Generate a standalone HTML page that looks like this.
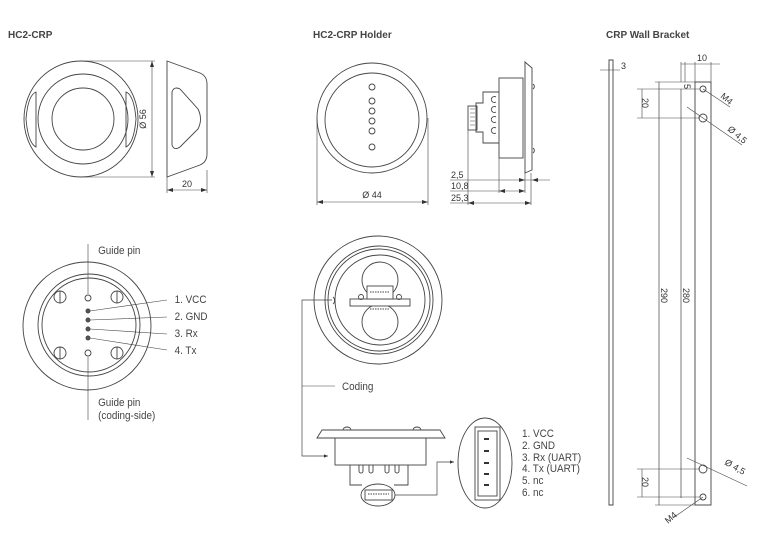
<!DOCTYPE html>
<html><head><meta charset="utf-8"><style>
html,body{margin:0;padding:0;background:#fff;}
svg{display:block;}
text{font-family:"Liberation Sans",sans-serif;fill:#333;}
.t{font-weight:bold;font-size:10px;fill:#444;}
.l{font-size:11px;fill:#444;font-family:"Liberation Sans Narrow","Liberation Sans",sans-serif;}
.d{font-size:9px;}
</style></head><body>
<svg width="768" height="538" viewBox="0 0 768 538" xmlns="http://www.w3.org/2000/svg">
<defs><marker id="a" viewBox="0 0 10 10" refX="10" refY="5" markerWidth="6" markerHeight="6" orient="auto-start-reverse"><path d="M0,1L10,5L0,9z" fill="#333"/></marker></defs>
<g fill="none" stroke="#444" stroke-width="0.9">
<ellipse cx="81" cy="119" rx="57" ry="58"/>
<circle cx="83" cy="119" r="45"/>
<circle cx="83" cy="119" r="31"/>
<path d="M36,92 Q28,95 26,119 Q28,143 36,147 Z"/>
<path d="M126,92 Q134,95 136,119 Q134,143 126,147 Z"/>
<path d="M84,61H155M84,177H155M152,61V177" stroke-width="0.6"/>
<path d="M167,61 L200,73 Q207,76 207,84 V154 Q207,162 200,165 L167,177 Z"/>
<path d="M172,92 Q174,86 180,89 L198,109 Q203,119 198,129 L180,147 Q174,151 172,145 Z"/>
<path d="M167,177V193M207,170V193M167,190H207" stroke-width="0.6"/>
<circle cx="372" cy="118" r="55"/>
<circle cx="372" cy="120" r="47"/>
<circle cx="372" cy="87" r="3"/><circle cx="372" cy="101" r="3"/><circle cx="372" cy="111" r="3"/><circle cx="372" cy="121" r="3"/><circle cx="372" cy="131" r="3"/><circle cx="372" cy="147" r="3"/>
<path d="M317,118V205M428,118V205M317,202H428" stroke-width="0.6"/>
<path d="M525,62 L532,68 V170 L525,173 Z"/>
<rect x="499" y="78" width="24" height="80"/>
<path d="M499,92 H483 V103 H476 V132 H483 V143 H499"/>
<rect x="468" y="106" width="9" height="24"/>
<path d="M470,109H475M470,113H475M470,117H475M470,121H475M470,125H475" stroke-width="0.6"/>
<path d="M496,97a3,3 0 1,0 0,5M496,107a3,3 0 1,0 0,5M496,117a3,3 0 1,0 0,5M496,128a3,3 0 1,0 0,5"/>
<path d="M533,84a3,3 0 0,1 0,5M533,148a3,3 0 0,1 0,5"/>
<path d="M468,130V205M499,158V193M525,173V193M531,173V205M450,180H550M450,191H525M450,203H531" stroke-width="0.6"/>
<path d="M609,60V505H613V60Z"/>
<path d="M600,70H620M609,64V70M613,64V70" stroke-width="0.6"/>
<rect x="695" y="82" width="16" height="423"/>
<path d="M659,82V505M681,89V498" stroke-width="0.7"/>
<path d="M655,82H711M637,89H700M637,118H700M637,469H700M637,497H700M655,505H711M681,62V82M695,62V82M711,62V82M685,62V82M681,64H720M642,89V118M642,469V497" stroke-width="0.6"/>
<circle cx="703" cy="89" r="3"/><circle cx="703" cy="118" r="4"/><circle cx="703" cy="469" r="4"/><circle cx="703" cy="497" r="3"/>
<path d="M703,89L730,107M687,107L742,145M687,458L747,486M703,497L673,518" stroke-width="0.6"/>
<circle cx="87" cy="326" r="64"/>
<circle cx="89" cy="325" r="51"/>
<circle cx="89" cy="325" r="47"/>
<circle cx="88" cy="298" r="3"/><circle cx="88" cy="353" r="3"/>
<g fill="#555"><circle cx="88" cy="311" r="2"/><circle cx="88" cy="320" r="2"/><circle cx="88" cy="329" r="2"/><circle cx="88" cy="338" r="2"/></g>
<circle cx="60" cy="297" r="6"/><path d="M60,291V303"/>
<circle cx="117" cy="297" r="6"/><path d="M117,291V303"/>
<circle cx="60" cy="353" r="6"/><path d="M60,347V359"/>
<circle cx="117" cy="353" r="6"/><path d="M117,347V359"/>
<path d="M88,244V294M88,357V420M90,311L167,300M90,320L167,317M90,329L167,334M90,338L167,350" stroke-width="0.6"/>
<circle cx="378" cy="300" r="64"/>
<circle cx="379" cy="300" r="54"/>
<circle cx="379" cy="300" r="51"/>
<circle cx="380" cy="300" r="45"/>
<circle cx="380" cy="280" r="18"/><circle cx="380" cy="322" r="18"/>
<rect x="350" y="299" width="60" height="7" fill="#fff"/>
<rect x="367" y="286" width="26" height="13" fill="#fff"/>
<path d="M370,292H390M370,309H390" stroke-dasharray="1.5 1" stroke-width="1"/>
<circle cx="361" cy="297" r="2.5"/><circle cx="399" cy="297" r="2.5"/>
<path d="M333,297a3,4 0 0,1 0,7"/>
<path d="M302,386H335" stroke-width="0.6"/>
<path d="M332,300H302V456H328" stroke-width="0.7" marker-end="url(#a)"/>
<path d="M317,438 L322,430 H440 L445,438 Z"/>
<path d="M343,430a4,3 0 0,1 8,0M413,430a4,3 0 0,1 8,0"/>
<rect x="335" y="438" width="91" height="27"/>
<path d="M350,465V485H362M408,465V485H394"/>
<path d="M359,465v6a2,2 0 0,0 4,0v-6M369,465v6a2,2 0 0,0 4,0v-6M385,465v6a2,2 0 0,0 4,0v-6M395,465v6a2,2 0 0,0 4,0v-6"/>
<rect x="365" y="490" width="27" height="10"/>
<path d="M368,494H389" stroke-dasharray="1.5 1"/>
<ellipse cx="378" cy="495" rx="17" ry="11"/>
<path d="M395,495H437V462H454" stroke-width="0.7" marker-end="url(#a)"/>
<ellipse cx="485" cy="463" rx="27" ry="45"/>
<rect x="475" y="427" width="25" height="73"/>
<rect x="478" y="431" width="19" height="65"/>
<g fill="#333" stroke="none"><rect x="484" y="438" width="5" height="2"/><rect x="484" y="450" width="5" height="2"/><rect x="484" y="462" width="5" height="2"/><rect x="484" y="473" width="5" height="2"/><rect x="484" y="484" width="5" height="2"/></g>
</g>
<g fill="#333" stroke="none">
<path d="M152,61l-2,6h4zM152,177l-2,-6h4zM167,190l6,-2v4zM207,190l-6,-2v4zM317,202l6,-2v4zM428,202l-6,-2v4z"/>
<path d="M468,203l6,-2v4zM531,203l-6,-2v4zM499,191l6,-2v4zM525,191l-6,-2v4zM525,180l-6,-2v4zM532,180l6,-2v4z"/>
</g>
<text class="t" x="8" y="38">HC2-CRP</text>
<text class="t" x="313" y="38">HC2-CRP Holder</text>
<text class="t" x="606" y="38">CRP Wall Bracket</text>
<text class="d" transform="translate(146,119) rotate(-90)" text-anchor="middle">Ø 56</text>
<text class="d" x="187" y="187" text-anchor="middle">20</text>
<text class="d" x="372" y="198" text-anchor="middle">Ø 44</text>
<text class="d" x="451" y="178">2,5</text>
<text class="d" x="451" y="189">10,8</text>
<text class="d" x="451" y="201">25,3</text>
<text class="d" x="621" y="69">3</text>
<text class="d" x="697" y="61">10</text>
<text class="d" transform="translate(684,84) rotate(90)">5</text>
<text class="d" transform="translate(642,98) rotate(90)">20</text>
<text class="d" transform="translate(642,477) rotate(90)">20</text>
<text class="d" transform="translate(661,288) rotate(90)">290</text>
<text class="d" transform="translate(683,288) rotate(90)">280</text>
<text class="d" transform="translate(720,97) rotate(40)">M4</text>
<text class="d" transform="translate(727,130) rotate(40)">Ø 4,5</text>
<text class="d" transform="translate(724,464) rotate(30)">Ø 4,5</text>
<text class="d" transform="translate(668,524) rotate(-40)">M4</text>
<g transform="scale(0.9,1)">
<text class="l" x="109" y="254">Guide pin</text>
<text class="l" x="194" y="303">1. VCC</text>
<text class="l" x="194" y="320">2. GND</text>
<text class="l" x="194" y="337">3. Rx</text>
<text class="l" x="194" y="354">4. Tx</text>
<text class="l" x="109" y="406">Guide pin</text>
<text class="l" x="109" y="419">(coding-side)</text>
<text class="l" x="380" y="390">Coding</text>
<text class="l" x="580" y="437">1. VCC</text>
<text class="l" x="580" y="449">2. GND</text>
<text class="l" x="580" y="461">3. Rx (UART)</text>
<text class="l" x="580" y="472">4. Tx (UART)</text>
<text class="l" x="580" y="484">5. nc</text>
<text class="l" x="580" y="496">6. nc</text>
</g>
</svg>
</body></html>
